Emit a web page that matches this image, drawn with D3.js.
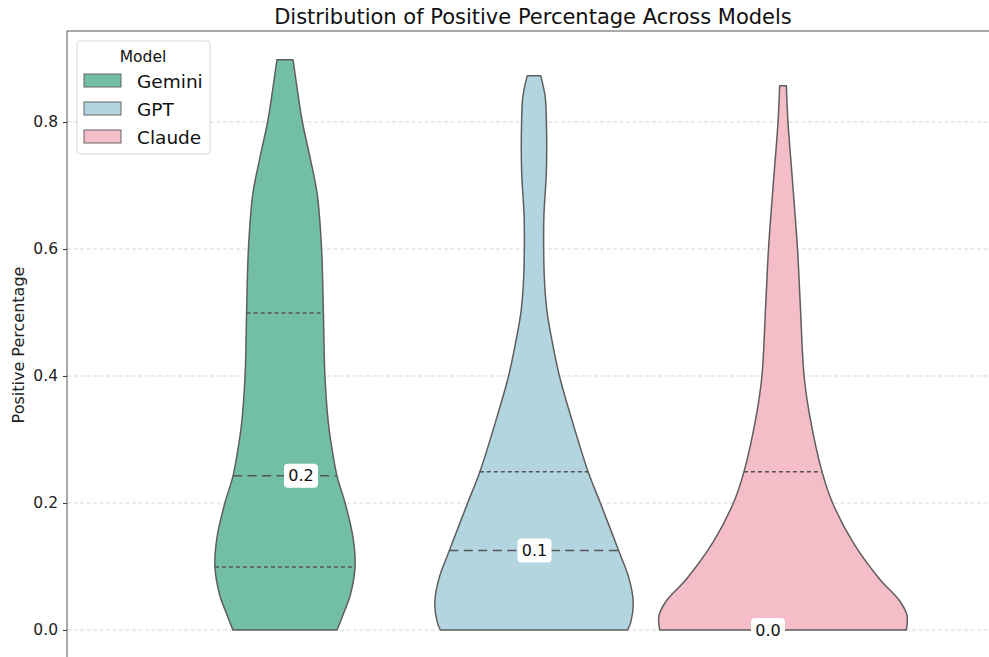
<!DOCTYPE html>
<html>
<head>
<meta charset="utf-8">
<script src="https://cdn.jsdelivr.net/npm/d3@7"></script>
<style>
	body { margin: 0; background: #fff; }
	text { font-family: "DejaVu Sans", sans-serif; }
</style>
</head>
<body>
<div id="chart-area"></div>
<script>
// models and colours
const models = ["Gemini", "GPT", "Claude"]
const colors = ["#73bfa6", "#b3d5e0", "#f5bdc7"]

// violin outlines: level (positive %) and relative half-width
const geminiLevels = [0, 0.03, 0.054, 0.099, 0.144, 0.2, 0.242, 0.29, 0.325, 0.4, 0.497, 0.6, 0.686, 0.746, 0.8, 0.85, 0.898]
const geminiWidths = [0.42, 0.48, 0.525, 0.565, 0.55, 0.485, 0.42, 0.375, 0.35, 0.322, 0.31, 0.295, 0.26, 0.2, 0.14, 0.1, 0.065]

const gptLevels = [0, 0.012, 0.044, 0.082, 0.124, 0.2, 0.25, 0.315, 0.4, 0.461, 0.501, 0.548, 0.6, 0.653, 0.723, 0.8, 0.84, 0.873]
const gptWidths = [0.755, 0.78, 0.8, 0.765, 0.685, 0.535, 0.435, 0.33, 0.205, 0.14, 0.105, 0.085, 0.078, 0.08, 0.1, 0.1, 0.09, 0.054]

const claudeLevels = [0, 0.023, 0.046, 0.08, 0.138, 0.2, 0.249, 0.338, 0.4, 0.51, 0.6, 0.711, 0.8, 0.857]
const claudeWidths = [0.995, 1.0, 0.94, 0.78, 0.565, 0.4, 0.315, 0.215, 0.17, 0.14, 0.117, 0.075, 0.04, 0.027]

// quartiles (q1, median, q3)
const quartiles = [[0.099, 0.243, 0.499], [0, 0.125, 0.249], [0, 0, 0.249]]
const medianLabels = ["0.2", "0.1", "0.0"]

const yTicks = [0, 0.2, 0.4, 0.6, 0.8]

const WIDTH = 989
const HEIGHT = 657
const MARGIN = {LEFT: 67, TOP: 31}

const svg = d3.select("#chart-area").append("svg")
	.attr("width", WIDTH)
	.attr("height", HEIGHT)

const y = d3.scaleLinear()
	.domain([-0.0457, 0.9433])
	.range([659, MARGIN.TOP])

const x = d3.scalePoint()
	.domain(models)
	.range([285, 783])

// median labels sit on a slightly narrower spread than the violins
const xLabel = d3.scalePoint()
	.domain(models)
	.range([301, 768])

const w = d3.scaleLinear()
	.domain([0, 1])
	.range([0, 124])

// grid
svg.append("g")
	.selectAll("line")
	.data(yTicks)
	.enter().append("line")
	.attr("x1", MARGIN.LEFT)
	.attr("x2", WIDTH)
	.attr("y1", d => y(d))
	.attr("y2", d => y(d))
	.attr("stroke", "#cccccc")
	.attr("stroke-width", 0.8)
	.attr("stroke-dasharray", "4,2.5")

// y axis
const yAxisCall = d3.axisLeft(y)
	.tickValues(yTicks)
	.tickFormat(d3.format(".1f"))
	.tickSize(4)
	.tickPadding(5)
const yAxis = svg.append("g")
	.attr("transform", `translate(${MARGIN.LEFT}, 0)`)
	.call(yAxisCall)
yAxis.select(".domain").remove()
yAxis.selectAll("line").attr("stroke", "#333")
yAxis.selectAll("text")
	.attr("font-size", "15.5px")
	.attr("fill", "#222")
	.style("font-family", "DejaVu Sans")

// spines
svg.append("line")
	.attr("x1", MARGIN.LEFT).attr("x2", MARGIN.LEFT)
	.attr("y1", MARGIN.TOP).attr("y2", HEIGHT)
	.attr("stroke", "#555").attr("stroke-width", 1)
svg.append("line")
	.attr("x1", MARGIN.LEFT).attr("x2", WIDTH)
	.attr("y1", MARGIN.TOP).attr("y2", MARGIN.TOP)
	.attr("stroke", "#555").attr("stroke-width", 1)

// violins
const levels = [geminiLevels, gptLevels, claudeLevels]
const widths = [geminiWidths, gptWidths, claudeWidths]

const area = d3.area()
	.curve(d3.curveCatmullRom)
	.y(d => y(d.v))
	.x0(d => -w(d.w))
	.x1(d => w(d.w))

// half width at a given level, linear between read points
function halfAt(i, v) {
	const lv = levels[i], wd = widths[i]
	for (let k = 1; k < lv.length; k++) {
		if (v <= lv[k]) {
			const t = (v - lv[k - 1]) / (lv[k] - lv[k - 1])
			return w(wd[k - 1] + t * (wd[k] - wd[k - 1]))
		}
	}
	return w(wd[wd.length - 1])
}

models.forEach((m, i) => {
	const pts = levels[i].map((v, k) => ({v: v, w: widths[i][k]}))
	const g = svg.append("g")
		.attr("transform", `translate(${x(m)}, 0)`)

	g.append("path")
		.attr("d", area(pts))
		.attr("fill", colors[i])
		.attr("stroke", "#5e5e5e")
		.attr("stroke-width", 1.5)
		.attr("stroke-linejoin", "round")

	quartiles[i].forEach((q, k) => {
		if (q <= 0) return
		const hw = halfAt(i, q)
		g.append("line")
			.attr("x1", -hw).attr("x2", hw)
			.attr("y1", y(q)).attr("y2", y(q))
			.attr("stroke", "#555")
			.attr("stroke-width", 1.5)
			.attr("stroke-dasharray", k == 1 ? "9,5.5" : "4,3")
	})
})

// median labels
models.forEach((m, i) => {
	const lbl = svg.append("g")
		.attr("transform", `translate(${xLabel(m)}, ${y(quartiles[i][1])})`)
	lbl.append("rect")
		.attr("x", -17).attr("y", -12)
		.attr("width", 34).attr("height", 24)
		.attr("rx", 4)
		.attr("fill", "white")
	lbl.append("text")
		.attr("text-anchor", "middle")
		.attr("dy", "0.36em")
		.attr("font-size", "16px")
		.attr("fill", "#111")
		.text(medianLabels[i])
})

// title
svg.append("text")
	.attr("x", 533)
	.attr("y", 24)
	.attr("text-anchor", "middle")
	.attr("font-size", "21px")
	.attr("fill", "#111")
	.text("Distribution of Positive Percentage Across Models")

// y label
svg.append("text")
	.attr("x", -345)
	.attr("y", 24)
	.attr("text-anchor", "middle")
	.attr("font-size", "16px")
	.attr("fill", "#222")
	.attr("transform", "rotate(-90)")
	.text("Positive Percentage")

// legend
const legend = svg.append("g")
	.attr("transform", "translate(77, 41)")
legend.append("rect")
	.attr("width", 133).attr("height", 113)
	.attr("rx", 3)
	.attr("fill", "white")
	.attr("fill-opacity", 0.85)
	.attr("stroke", "#d6d6d6")
	.attr("stroke-width", 1)
legend.append("text")
	.attr("x", 66).attr("y", 21)
	.attr("text-anchor", "middle")
	.attr("font-size", "15.5px")
	.attr("fill", "#111")
	.text("Model")
models.forEach((m, i) => {
	legend.append("rect")
		.attr("x", 7).attr("y", 33 + i * 28)
		.attr("width", 37).attr("height", 13)
		.attr("fill", colors[i])
		.attr("stroke", "#666")
		.attr("stroke-width", 1)
	legend.append("text")
		.attr("x", 60).attr("y", 40 + i * 28)
		.attr("dy", "0.36em")
		.attr("font-size", "18.5px")
		.attr("fill", "#111")
		.text(m)
})
</script>
</body>
</html>
